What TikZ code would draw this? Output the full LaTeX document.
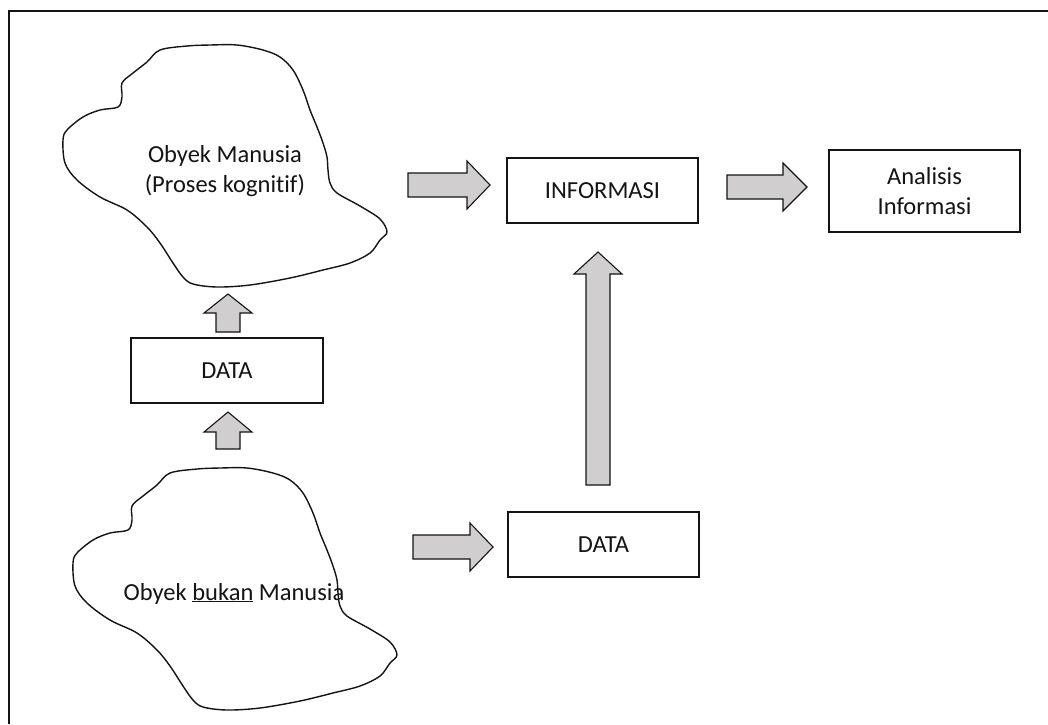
\documentclass[tikz,border=0pt]{standalone}
\usepackage{fontspec}
\setmainfont[Ligatures={NoCommon}]{Carlito}
\usetikzlibrary{calc}
\definecolor{arrowfill}{RGB}{208,206,206}
\definecolor{inkc}{RGB}{20,20,20}
\tikzset{
  box/.style={draw=inkc, line width=1.1pt, minimum width=191, minimum height=65, align=center, inner sep=0pt, text=inkc},
  txt/.style={align=center, inner sep=0pt, text=inkc},
  cloudline/.style={draw=inkc, line width=1.4pt, line join=round},
  blockarrow/.style={draw=inkc, fill=arrowfill, line width=1.1pt, line join=miter},
  cloudpic/.pic={
    \draw[cloudline] plot[smooth cycle, tension=0.55] coordinates {
      (160,50) (187,46) (210,45) (237,45) (263,50) (280,57) (293,70) (303,90)
      (310,110) (317,127) (323,143) (327,157) (328,170) (330,183) (337,193)
      (360,206) (380,219) (387,232) (380,240) (370,253) (350,263) (323,270)
      (290,278) (250,285) (217,287) (193,284) (183,277) (173,263) (160,243)
      (147,227) (127,210) (100,197) (77,180) (65,163) (63,140) (67,130)
      (83,117) (100,110) (118,107) (122,97) (122,83) (133,73) (147,62)};
  }
}
\newcommand\harrow[3]{\draw[blockarrow] let \p1=(#1), \p2=(#2) in
  (\x1,\y1+12pt) -- (\x2-#3pt,\y1+12pt) -- (\x2-#3pt,\y1+24pt) -- (\x2,\y1)
  -- (\x2-#3pt,\y1-24pt) -- (\x2-#3pt,\y1-12pt) -- (\x1,\y1-12pt) -- cycle;}
\newcommand\varrow[3]{\draw[blockarrow] let \p1=(#1), \p2=(#2) in
  (\x1-12pt,\y1) -- (\x1-12pt,\y2-#3pt) -- (\x1-24pt,\y2-#3pt) -- (\x1,\y2)
  -- (\x1+24pt,\y2-#3pt) -- (\x1+12pt,\y2-#3pt) -- (\x1+12pt,\y1) -- cycle;}
\begin{document}
\begin{tikzpicture}[x=1pt, y=-1pt, font=\fontsize{24.5}{30}\selectfont]
\useasboundingbox (0,0) rectangle (1048,724);
\fill[white] (0,0) rectangle (1048,724);
% frame (right and bottom edges fall outside the picture)
\draw[inkc, line width=1.8pt] (1048,11) -- (9,11) -- (9,724);

% clouds
\pic at (0,0) {cloudpic};
\pic at (10,423) {cloudpic};

% nodes
\node[txt] (obj1) at (225,171) {Obyek Manusia\\(Proses kognitif)};
\node[txt, anchor=base] (obj2) at (234,600) {Obyek \underline{bukan} Manusia};
\node[box] (info) at (602.5,190.5) {INFORMASI};
\node[box, minimum height=82] (anal) at (924.5,191) {Analisis\\Informasi};
\node[box, minimum width=192] (data1) at (227,370.5) {DATA};
\node[box] (data2) at (603.5,544.5) {DATA};

% arrow end points
\coordinate (aS) at (408,185); \coordinate (aT) at (490,185);
\coordinate (bS) at (727,187); \coordinate (bT) at (807,187);
\coordinate (cS) at (228,332); \coordinate (cT) at (228,294);
\coordinate (dS) at (228,449); \coordinate (dT) at (228,412);
\coordinate (eS) at (413,547); \coordinate (eT) at (493,547);
\coordinate (fS) at (598,485); \coordinate (fT) at (598,252);

\harrow{aS}{aT}{23}
\harrow{bS}{bT}{24}
\varrow{cS}{cT}{19}
\varrow{dS}{dT}{20}
\harrow{eS}{eT}{23}
\varrow{fS}{fT}{22}
\end{tikzpicture}
\end{document}
